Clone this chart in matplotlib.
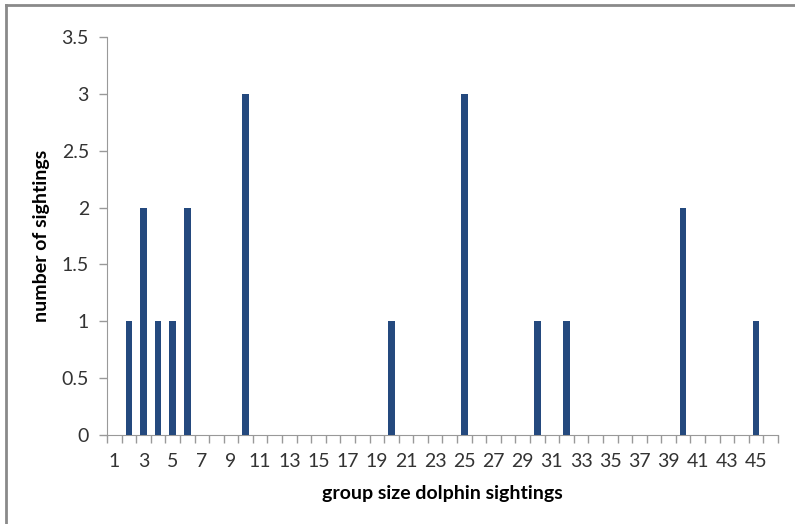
import numpy as np
import matplotlib
matplotlib.use("Agg")
import matplotlib.pyplot as plt
from matplotlib.lines import Line2D

# group sizes observed and how often each was seen
group_sizes = [2, 3, 4, 5, 6, 10, 20, 25, 30, 32, 40, 45]
sightings = [1, 2, 1, 1, 2, 3, 1, 3, 1, 1, 2, 1]
categories = list(range(1, 47))

counts = np.zeros(len(categories))
for g, n in zip(group_sizes, sightings):
    counts[categories.index(g)] = n

plt.rcParams['font.family'] = ['Lato', 'DejaVu Sans']

fig = plt.figure(figsize=(7.95, 5.24), dpi=100)
ax = fig.add_axes([0.1346, 0.1698, 0.9786 - 0.1346, 0.9294 - 0.1698])

pos = np.arange(1, len(categories) + 1)
ax.bar(pos, counts, width=0.45, color='#24497E', zorder=3)

ax.set_xlim(0.5, len(categories) + 0.5)
ax.set_ylim(0, 3.5)
ax.set_yticks(np.arange(0, 3.51, 0.5))
ax.set_yticklabels(['0', '0.5', '1', '1.5', '2', '2.5', '3', '3.5'])

ax.set_xticks(pos[::2])
ax.set_xticklabels([str(c) for c in categories[::2]])
ax.set_xticks(np.arange(0.5, len(categories) + 1), minor=True)
ax.tick_params(axis='x', which='major', length=0, pad=13, labelsize=14, colors='#333333')
ax.tick_params(axis='x', which='minor', length=6, color='#999999', width=1)
ax.tick_params(axis='y', length=6, color='#999999', width=1, labelsize=14, pad=7)
for lab in ax.get_yticklabels():
    lab.set_color('#333333')

for s in ['top', 'right']:
    ax.spines[s].set_visible(False)
for s in ['left', 'bottom']:
    ax.spines[s].set_color('#999999')

ax.set_xlabel('group size dolphin sightings', fontsize=14, fontweight='bold', labelpad=11)
ax.set_ylabel('number of sightings', fontsize=14, fontweight='bold', labelpad=8)

# chart area frame (only left and top visible in the crop)
fig.add_artist(Line2D([0.008, 0.008], [0, 0.99], transform=fig.transFigure,
                      color='#8a8a8a', lw=2))
fig.add_artist(Line2D([0.008, 1.0], [0.99, 0.99], transform=fig.transFigure,
                      color='#8a8a8a', lw=2))

fig.savefig('out.png', dpi=100)
